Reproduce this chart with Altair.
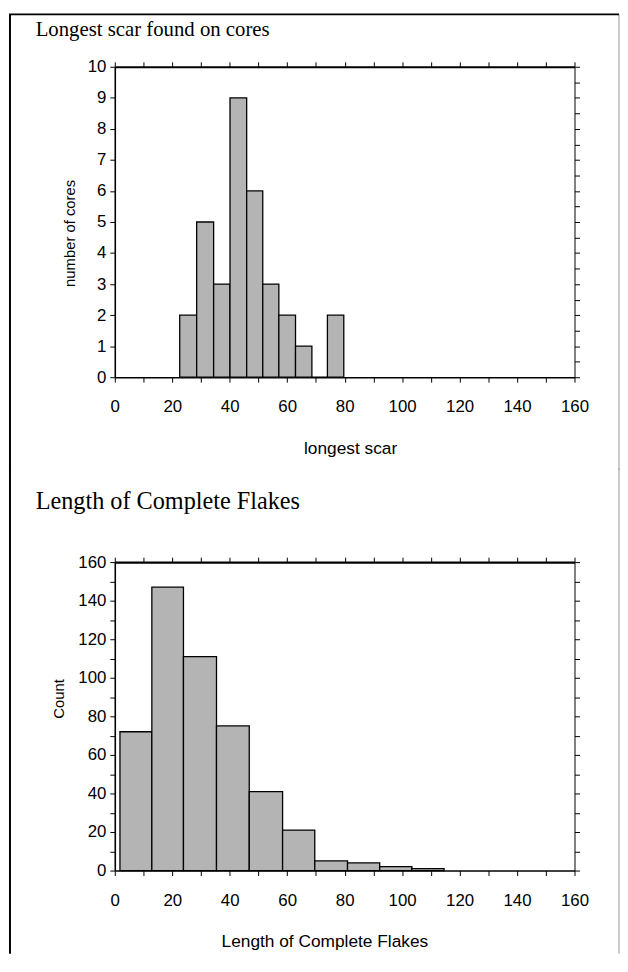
import altair as alt
import pandas as pd

# ---------------- data ----------------
scar_edges = [22.6, 28.5, 34.4, 40.1, 45.9, 51.5, 57.1, 62.9, 68.6, 74.0, 79.7]
scar_counts = [2, 5, 3, 9, 6, 3, 2, 1, 0, 2]

flake_edges = [1.8, 12.9, 23.9, 35.4, 46.8, 58.4, 69.6, 81.0, 92.2, 103.4, 114.6]
flake_counts = [72, 147, 111, 75, 41, 21, 5, 4, 2, 1]

x_ticks = [0, 10, 20, 30, 40, 50, 60, 70, 80, 90, 100, 110, 120, 130, 140, 150, 160]
scar_y_ticks = [0, 0.5, 1, 1.5, 2, 2.5, 3, 3.5, 4, 4.5, 5, 5.5, 6, 6.5, 7, 7.5,
                8, 8.5, 9, 9.5, 10]
flake_y_ticks = [0, 10, 20, 30, 40, 50, 60, 70, 80, 90, 100, 110, 120, 130, 140,
                 150, 160]

scar_title = "Longest scar found on cores"
scar_xtitle = "longest scar"
scar_ytitle = "number of cores"
flake_title = "Length of Complete Flakes"
flake_xtitle = "Length of Complete Flakes"
flake_ytitle = "Count"

LABEL_FONT = "Liberation Sans"
TITLE_FONT = "Liberation Serif"


def panel(edges, counts, ydom, yticks, ylab_expr, xtitle, ytitle, title,
          title_size, title_y, width, height, frame_top, frame_bottom,
          ytitle_pad, ytitle_y, xtitle_x, draw_top_line):
    df = pd.DataFrame({"start": edges[:-1], "end": edges[1:], "count": counts})
    one = pd.DataFrame({"k": [0]})
    xs = alt.Scale(domain=[0, 160], nice=False, zero=False)
    ys = alt.Scale(domain=ydom, nice=False)
    xlab_expr = "datum.value % 20 == 0 ? datum.label : ''"

    bars = alt.Chart(df).mark_bar(
        fill="#b4b4b4", stroke="black", strokeWidth=1.3
    ).encode(
        x=alt.X("start:Q", scale=xs,
                axis=alt.Axis(orient="bottom", values=x_ticks, format="d",
                              labelExpr=xlab_expr, title=xtitle,
                              labelPadding=17, titlePadding=25,
                              titleFontSize=17.5, titleX=xtitle_x,
                              domainWidth=1.6)),
        x2="end:Q",
        y=alt.Y("count:Q", scale=ys,
                axis=alt.Axis(orient="left", values=yticks, format="d",
                              labelExpr=ylab_expr, title=ytitle,
                              labelPadding=4, titlePadding=ytitle_pad,
                              titleY=ytitle_y, domainWidth=1.6)),
        y2=alt.datum(0),
    )

    mirror = alt.Chart(df).mark_bar(opacity=0).encode(
        x=alt.X("start:Q", scale=xs, title=None,
                axis=alt.Axis(orient="top", values=x_ticks, labels=False,
                              domainWidth=2.2)),
        x2="end:Q",
        y=alt.Y("count:Q", scale=ys, title=None,
                axis=alt.Axis(orient="right", values=yticks, labels=False,
                              domainWidth=1.0)),
        y2=alt.datum(0),
    )

    left_line = alt.Chart(one).mark_rule(
        color="black", strokeWidth=2, strokeJoin="round"
    ).encode(x=alt.value(-106), y=alt.value(frame_top), y2=alt.value(frame_bottom))
    right_line = alt.Chart(one).mark_rule(
        color="#9a9a9a", strokeWidth=1, strokeJoin="round"
    ).encode(x=alt.value(510), y=alt.value(frame_top), y2=alt.value(frame_bottom))
    layers = [bars, mirror, left_line, right_line]
    if draw_top_line:
        top_line = alt.Chart(one).mark_rule(
            color="black", strokeWidth=2, strokeJoin="round"
        ).encode(x=alt.value(-107), x2=alt.value(510), y=alt.value(frame_top))
        layers.append(top_line)

    ttl = alt.Chart(one).mark_text(
        text=title, font=TITLE_FONT, fontSize=title_size, align="left",
        baseline="alphabetic", color="black"
    ).encode(x=alt.value(-80), y=alt.value(title_y))
    layers.append(ttl)

    return alt.layer(*layers).resolve_scale(
        x="independent", y="independent"
    ).resolve_axis(
        x="independent", y="independent"
    ).properties(width=width, height=height)


top = panel(scar_edges, scar_counts, [0, 10], scar_y_ticks,
            "datum.value % 1 == 0 ? datum.label : ''",
            scar_xtitle, scar_ytitle, scar_title, 21, -31, 465, 314,
            -53, 408, 10, 168, 238, True)

bottom = panel(flake_edges, flake_counts, [0, 160], flake_y_ticks,
               "datum.value % 20 == 0 ? datum.label : ''",
               flake_xtitle, flake_ytitle, flake_title, 24.5, -54, 465, 312,
               -95, 396, 12, 138, 212, False)

chart = alt.vconcat(top, bottom, spacing=-4).properties(
    padding=0, background="white"
).configure_view(
    strokeWidth=0
).configure_axis(
    grid=False,
    domainColor="black",
    tickColor="black",
    tickWidth=1,
    tickSize=5,
    labelFont=LABEL_FONT,
    labelFontSize=17,
    labelColor="black",
    labelFlush=False,
    labelOverlap=False,
    titleFont=LABEL_FONT,
    titleFontSize=15,
    titleFontWeight="normal",
    titleColor="black",
)

chart.save("out.html", embed_options={"renderer": "svg", "actions": False})
